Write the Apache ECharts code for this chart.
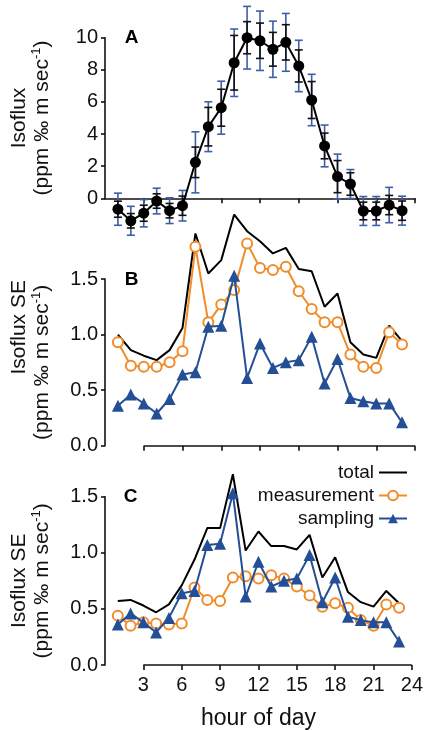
<!DOCTYPE html>
<html>
<head>
<meta charset="utf-8">
<title>Isoflux by hour of day</title>
<script src="https://cdn.jsdelivr.net/npm/echarts@6/dist/echarts.min.js"></script>
<style>
  html, body { margin: 0; padding: 0; background: #fff; }
  #chart { width: 426px; height: 731px; }
</style>
</head>
<body>
<div id="chart"></div>
<script>
// hour of day of every point
const hours = [1, 2, 3, 4, 5, 6, 7, 8, 9, 10, 11, 12, 13, 14, 15, 16, 17, 18, 19, 20, 21, 22, 23]
// panel A: mean isoflux, inner (black) and outer (blue) error bars
const isoflux = [-0.68, -1.4, -0.93, -0.17, -0.77, -0.46, 2.24, 4.46, 5.64, 8.44, 10.0, 9.81, 9.28, 9.71, 8.24, 6.12, 3.26, 1.35, 0.89, -0.79, -0.79, -0.42, -0.77]
const errInner = [0.5, 0.45, 0.5, 0.45, 0.45, 0.6, 0.95, 1.2, 1.15, 1.7, 1.0, 1.1, 1.05, 1.1, 1.0, 1.15, 0.8, 1.0, 0.7, 0.55, 0.55, 0.6, 0.6]
const errOuter = [1.0, 0.9, 0.85, 0.8, 0.8, 0.95, 1.9, 1.55, 1.65, 2.1, 1.95, 1.85, 1.75, 1.8, 1.6, 1.6, 1.3, 1.4, 0.9, 0.9, 0.9, 1.1, 0.9]
// panel B
const totalB = [1.0, 0.86, 0.81, 0.77, 0.86, 1.06, 1.91, 1.55, 1.67, 2.08, 1.93, 1.84, 1.73, 1.78, 1.59, 1.57, 1.25, 1.37, 0.93, 0.82, 0.79, 1.08, 0.94]
const measB = [0.93, 0.72, 0.71, 0.71, 0.75, 0.85, 1.79, 1.11, 1.27, 1.4, 1.82, 1.6, 1.58, 1.61, 1.39, 1.23, 1.11, 1.11, 0.82, 0.71, 0.7, 1.02, 0.91]
// sampling SE is the same in B and C
const sampling = [0.36, 0.46, 0.38, 0.29, 0.42, 0.64, 0.66, 1.07, 1.08, 1.53, 0.61, 0.92, 0.7, 0.75, 0.77, 0.98, 0.56, 0.78, 0.43, 0.4, 0.38, 0.38, 0.21]
// panel C
const totalC = [0.57, 0.58, 0.53, 0.47, 0.54, 0.71, 0.94, 1.22, 1.22, 1.7, 1.02, 1.19, 1.06, 1.06, 1.03, 1.16, 0.78, 0.96, 0.65, 0.56, 0.52, 0.66, 0.55]
const measC = [0.44, 0.35, 0.38, 0.37, 0.36, 0.37, 0.69, 0.58, 0.57, 0.78, 0.79, 0.77, 0.8, 0.77, 0.7, 0.62, 0.52, 0.55, 0.51, 0.4, 0.35, 0.54, 0.51]
// tick labels
const hourTicks = [3, 6, 9, 12, 15, 18, 21, 24]

const FONT = 'Liberation Sans'
const ORANGE = '#f08c2a'
const BLUE = '#244f96'
const ERRBLUE = '#3e5fa8'

let myChart = echarts.init(document.getElementById('chart'))

const pairs = arr => hours.map((h, i) => [h, arr[i]])

// vertical error bar with caps
function errBar (color, list) {
    return {
        type: 'custom',
        coordinateSystem: 'cartesian2d',
        xAxisIndex: 0,
        yAxisIndex: 0,
        silent: true,
        data: hours.map((h, i) => [h, isoflux[i], list[i]]),
        encode: { x: 0, y: 1 },
        renderItem: function (params, api) {
            let x = api.value(0)
            let y = api.value(1)
            let e = api.value(2)
            let top = api.coord([x, y + e])
            let bot = api.coord([x, y - e])
            let st = { stroke: color, lineWidth: 1.6 }
            return {
                type: 'group',
                children: [
                    { type: 'line', shape: { x1: top[0], y1: top[1], x2: bot[0], y2: bot[1] }, style: st },
                    { type: 'line', shape: { x1: top[0] - 4, y1: top[1], x2: top[0] + 4, y2: top[1] }, style: st },
                    { type: 'line', shape: { x1: bot[0] - 4, y1: bot[1], x2: bot[0] + 4, y2: bot[1] }, style: st }
                ]
            }
        }
    }
}

// x axis line of B and C starts at hour 3
const baseLine = {
    silent: true,
    symbol: ['none', 'none'],
    label: { show: false },
    lineStyle: { color: '#111', width: 1.6, type: 'solid' },
    data: [[{ coord: [3, 0] }, { coord: [24, 0] }]]
}

function seSeries (idx) {
    let tot = idx === 1 ? totalB : totalC
    let meas = idx === 1 ? measB : measC
    return [
        {
            name: 'total', type: 'line', xAxisIndex: idx, yAxisIndex: idx,
            data: pairs(tot), symbol: 'none', clip: false,
            itemStyle: { color: '#000' },
            lineStyle: { color: '#000', width: 2 },
            markLine: baseLine, z: 2
        },
        {
            name: 'measurement', type: 'line', xAxisIndex: idx, yAxisIndex: idx,
            data: pairs(meas), symbol: 'emptyCircle', symbolSize: 10, clip: false,
            itemStyle: { color: ORANGE, borderWidth: 1.6 },
            lineStyle: { color: ORANGE, width: 2 }, z: 3
        },
        {
            name: 'sampling', type: 'line', xAxisIndex: idx, yAxisIndex: idx,
            data: pairs(sampling), symbol: 'triangle', symbolSize: 12, clip: false,
            itemStyle: { color: BLUE },
            lineStyle: { color: BLUE, width: 2 }, z: 4
        }
    ]
}

const grids = [
    { left: 104.5, width: 310.5, top: 37.7, height: 160.6 },
    { left: 104.5, width: 310.5, top: 279, height: 166.7 },
    { left: 104.5, width: 310.5, top: 496.7, height: 168.3 }
]

function xAxisFor (idx) {
    return {
        type: 'value', gridIndex: idx, min: 0, max: 24,
        splitLine: { show: false },
        axisLine: { show: idx === 0, onZero: false, lineStyle: { color: '#111', width: 1.6 } },
        axisTick: { show: true, length: 5, customValues: hourTicks, lineStyle: { color: '#111', width: 1.6 } },
        axisLabel: {
            show: idx === 2, customValues: hourTicks, margin: 10,
            fontSize: 20, fontFamily: FONT, color: '#111'
        },
        name: idx === 2 ? 'hour of day' : '',
        nameLocation: 'middle',
        nameGap: 42,
        nameTextStyle: { fontSize: 23, fontFamily: FONT, color: '#111' }
    }
}

const richName = {
    sup: { fontSize: 13, fontFamily: FONT, color: '#111', padding: [0, 0, 12, 0] },
    // first line of B sits higher than the second
    up: { fontSize: 21, fontFamily: FONT, color: '#111', padding: [0, 0, 0, 70] }
}

const yTitles = ['Isoflux', '{up|Isoflux SE}', 'Isoflux SE']

function yAxisFor (idx) {
    let isA = idx === 0
    return {
        type: 'value', gridIndex: idx,
        min: 0, max: isA ? 10 : 1.5, interval: isA ? 2 : 0.5,
        splitLine: { show: false },
        axisLine: { show: true, lineStyle: { color: '#111', width: 1.6 } },
        axisTick: { show: true, length: 4, lineStyle: { color: '#111', width: 1.6 } },
        axisLabel: {
            margin: 7, fontSize: 20, fontFamily: FONT, color: '#111',
            formatter: v => isA ? String(v) : v.toFixed(1)
        },
        name: yTitles[idx] + '\n(ppm \u2030 m sec{sup|-1})',
        nameLocation: 'middle',
        nameRotate: 90,
        nameGap: 51,
        nameTextStyle: { fontSize: 21, fontFamily: FONT, color: '#111', lineHeight: 23, rich: richName }
    }
}

const letters = [['A', 131.5, 38], ['B', 131.5, 280], ['C', 130.5, 497]]

myChart.setOption({
    animation: false,
    backgroundColor: '#fff',
    textStyle: { fontFamily: FONT },
    grid: grids,
    xAxis: [0, 1, 2].map(xAxisFor),
    yAxis: [0, 1, 2].map(yAxisFor),
    legend: {
        // total is only a line in the key, so its marker is hidden
        data: [
            { name: 'total', itemStyle: { opacity: 0 } },
            'measurement',
            'sampling'
        ],
        orient: 'vertical',
        align: 'right',
        right: 18,
        top: 463,
        padding: 0,
        itemWidth: 28,
        itemHeight: 12,
        itemGap: 4,
        selectedMode: false,
        textStyle: { fontSize: 19, fontFamily: FONT, color: '#111' }
    },
    graphic: letters.map(l => ({
        type: 'text',
        x: l[1],
        y: l[2],
        style: {
            text: l[0],
            font: 'bold 19px "Liberation Sans"',
            fill: '#000',
            textAlign: 'center',
            textVerticalAlign: 'middle',
            align: 'center',
            verticalAlign: 'middle'
        }
    })),
    series: [
        errBar(ERRBLUE, errOuter),
        errBar('#111', errInner),
        {
            name: 'isoflux', type: 'line', xAxisIndex: 0, yAxisIndex: 0,
            data: pairs(isoflux), symbol: 'circle', symbolSize: 11, clip: false,
            itemStyle: { color: '#000' },
            lineStyle: { color: '#000', width: 2 }, z: 5
        },
        ...seSeries(1),
        ...seSeries(2)
    ]
})

window.addEventListener('resize', function () {
    myChart.resize()
})
</script>
</body>
</html>
